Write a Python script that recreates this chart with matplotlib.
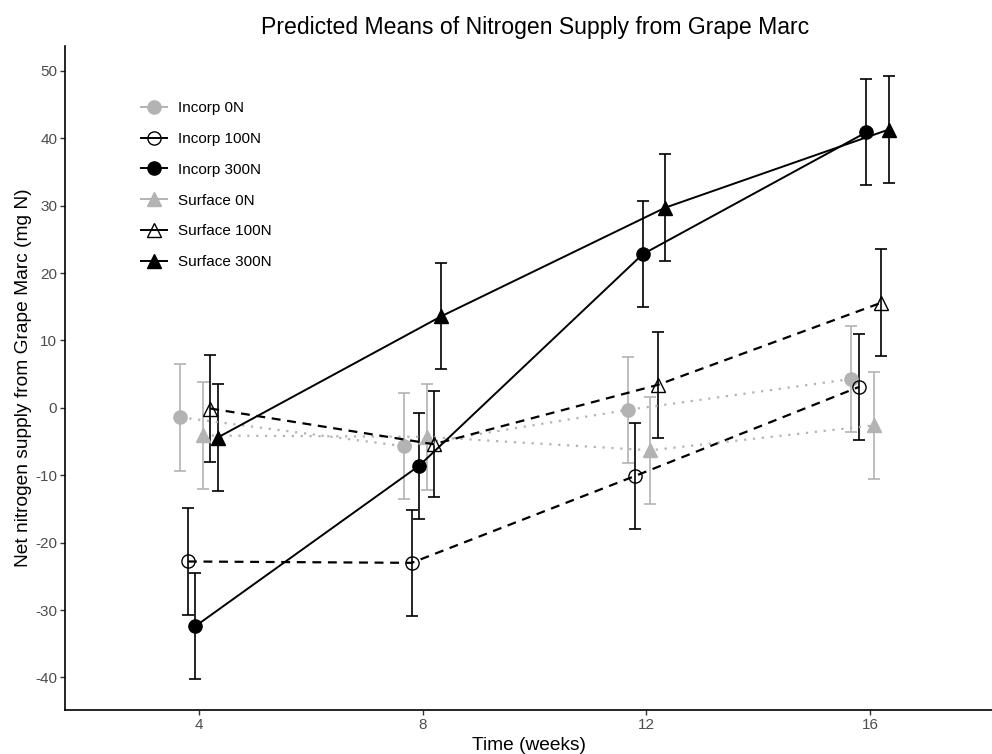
import matplotlib
matplotlib.use("Agg")
import matplotlib.pyplot as plt
from matplotlib.lines import Line2D
import numpy as np

plt.rcParams['font.family'] = ['Liberation Sans', 'DejaVu Sans']
plt.rcParams['axes.unicode_minus'] = False

weeks = [4, 8, 12, 16]
groups = ["Incorp 0N", "Incorp 100N", "Incorp 300N", "Surface 0N", "Surface 100N", "Surface 300N"]

incorp_0n = [-1.4, -5.7, -0.3, 4.3]
incorp_100n = [-22.8, -23.0, -10.1, 3.1]
incorp_300n = [-32.4, -8.6, 22.8, 40.9]
surface_0n = [-4.1, -4.3, -6.3, -2.6]
surface_100n = [-0.1, -5.4, 3.4, 15.6]
surface_300n = [-4.4, 13.6, 29.7, 41.3]
ci_half = [7.9, 7.9, 7.9, 7.9]

series = [incorp_0n, incorp_100n, incorp_300n, surface_0n, surface_100n, surface_300n]

grey = '#B3B3B3'
styles = [
    dict(color=grey, marker='o', mfc=grey, ls=(0, (1, 3)), lw=1.6),
    dict(color='black', marker='o', mfc='none', ls=(0, (4, 3)), lw=1.6),
    dict(color='black', marker='o', mfc='black', ls='-', lw=1.4),
    dict(color=grey, marker='^', mfc=grey, ls=(0, (1, 3)), lw=1.6),
    dict(color='black', marker='^', mfc='none', ls=(0, (4, 3)), lw=1.6),
    dict(color='black', marker='^', mfc='black', ls='-', lw=1.4),
]

fig = plt.figure(figsize=(9.92, 7.54), dpi=100)
ax = fig.add_axes([0.066, 0.0587, 0.934, 0.8803])

dodge = 0.8
n = len(groups)
handles = []
for i, (name, vals, st) in enumerate(zip(groups, series, styles)):
    off = (i - (n - 1) / 2) * dodge / n
    xs = np.array(weeks) + off
    ax.errorbar(xs, vals, yerr=ci_half, fmt='none', ecolor=st['color'],
                elinewidth=1.2, capsize=4, capthick=1.2, zorder=2)
    ms = 9.5 if st['marker'] == 'o' else 10
    ax.plot(xs, vals, color=st['color'], ls=st['ls'], lw=st['lw'],
            marker=st['marker'], markersize=ms, markerfacecolor=st['mfc'],
            markeredgecolor=st['color'], markeredgewidth=1.0, zorder=3)
    handles.append(Line2D([], [], color=st['color'], ls='-', lw=1.4,
                          marker=st['marker'], markersize=ms, markerfacecolor=st['mfc'],
                          markeredgecolor=st['color'], markeredgewidth=1.0, label=name))

ax.set_xlim(1.61, 18.18)
ax.set_ylim(-44.8, 53.7)
ax.set_xticks(weeks)
ax.set_yticks([-40, -30, -20, -10, 0, 10, 20, 30, 40, 50])
for s in ['top', 'right']:
    ax.spines[s].set_visible(False)
for s in ['left', 'bottom']:
    ax.spines[s].set_linewidth(1.2)
    ax.spines[s].set_color('black')
ax.tick_params(axis='both', length=3.5, width=1.0, color='#333333',
               labelcolor='#4D4D4D', labelsize=11, pad=2.5)

ax.set_xlabel('Time (weeks)', fontsize=13.8, color='black', labelpad=3.5)
ax.set_ylabel('Net nitrogen supply from Grape Marc (mg N)', fontsize=13.8, color='black', labelpad=2)
fig.text(0.539, 0.963, 'Predicted Means of Nitrogen Supply from Grape Marc',
         ha='center', va='center', fontsize=16.6, color='black')

leg = ax.legend(handles=handles, loc='upper left', bbox_to_anchor=(0.1345, 0.876),
                bbox_transform=fig.transFigure, frameon=False, fontsize=11,
                handlelength=1.7, labelspacing=1.1, handletextpad=0.75, borderpad=0)
for t in leg.get_texts():
    t.set_color('black')

fig.savefig('out.png', dpi=100)
